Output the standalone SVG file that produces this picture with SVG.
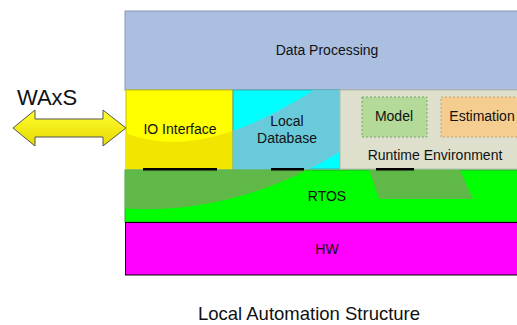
<svg xmlns="http://www.w3.org/2000/svg" width="517" height="325" viewBox="0 0 517 325">
<style>
text{font-family:"Liberation Sans",Arial,sans-serif;fill:#111;text-anchor:middle}
.lbl{font-size:14px}
.bar{fill:#000}
</style>
<defs>
<linearGradient id="ag" x1="0" y1="0" x2="0" y2="1">
<stop offset="0" stop-color="#ffff30"/><stop offset="1" stop-color="#e6d800"/>
</linearGradient>
<path id="cres" d="M100,120 C150,152 215,155 320,86 L380,40 L380,120 L350,145 C260,205 170,216 100,206 Z"/>
<clipPath id="cIO"><rect x="126" y="90" width="107" height="79"/></clipPath>
<clipPath id="cDB"><rect x="233" y="90" width="107" height="79"/></clipPath>
<clipPath id="cRT"><rect x="125" y="170" width="400" height="52"/></clipPath>
</defs>
<rect width="517" height="325" fill="#fff"/>
<g id="data-processing">
<rect x="125" y="11" width="400" height="79" fill="#abbfe1" stroke="#8797b3" stroke-width="1"/>
<text class="lbl" x="327" y="55">Data Processing</text>
</g>
<g id="io-interface">
<rect x="126" y="90" width="107" height="79" fill="#ffff00" stroke="#c8c000" stroke-width="1"/>
<use href="#cres" fill="#f2e600" clip-path="url(#cIO)"/>
<text class="lbl" x="180" y="134">IO Interface</text>
</g>
<g id="local-database">
<rect x="233" y="90" width="107" height="79" fill="#00ffff" stroke="#40a8b0" stroke-width="1"/>
<use href="#cres" fill="#69cadb" clip-path="url(#cDB)"/>
<text class="lbl" x="287" y="126">Local</text>
<text class="lbl" x="287" y="143">Database</text>
</g>
<g id="runtime-environment">
<rect x="340" y="90" width="185" height="79" fill="#dee0cd" stroke="#b8bca8" stroke-width="1"/>
<text class="lbl" x="435" y="160">Runtime Environment</text>
</g>
<g id="model">
<rect x="362" y="97" width="65" height="40" fill="#b3da98" stroke="#7fa070" stroke-width="1" stroke-dasharray="2,2"/>
<text class="lbl" x="394" y="121">Model</text>
</g>
<g id="estimation">
<rect x="441" y="97" width="84" height="40" fill="#f5cd90" stroke="#c8a070" stroke-width="1" stroke-dasharray="2,2"/>
<text class="lbl" x="482" y="121">Estimation</text>
</g>
<g id="rtos">
<rect x="125" y="170" width="400" height="52" fill="#00ff00" stroke="#30a030" stroke-width="1"/>
<use href="#cres" fill="#60b849" clip-path="url(#cRT)"/>
<polygon points="369,170 460,170 473,199 379,199" fill="#60b849"/>
<text class="lbl" x="327" y="201">RTOS</text>
</g>
<g id="hw">
<rect x="125.5" y="222.5" width="400" height="52.5" fill="#ff00ff" stroke="#000" stroke-width="1"/>
<text class="lbl" x="327" y="254">HW</text>
</g>
<g id="connectors">
<rect class="bar" x="143" y="168" width="74" height="2.5"/>
<rect class="bar" x="271" y="168" width="33" height="2.5"/>
<rect class="bar" x="376" y="168" width="38" height="2.5"/>
</g>
<g id="waxs">
<polygon points="13,128 35,110 35,119 103,119 103,110 126,128 103,146 103,137 35,137 35,146" fill="url(#ag)" stroke="#555" stroke-width="1"/>
<text x="17" y="105" style="font-size:22px;text-anchor:start">WAxS</text>
</g>
<text x="309" y="320" style="font-size:18.5px">Local Automation Structure</text>
</svg>
